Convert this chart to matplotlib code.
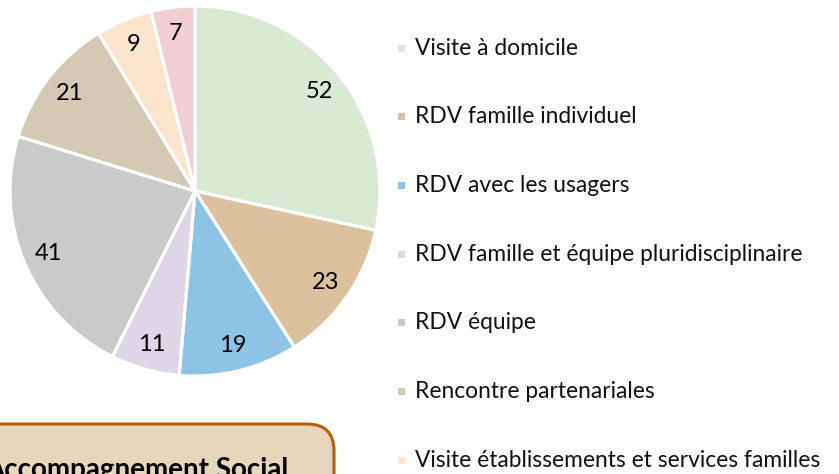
import matplotlib.pyplot as plt
from matplotlib.patches import FancyBboxPatch, Rectangle

plt.rcParams['font.family'] = ['Lato', 'DejaVu Sans']

# data
labels = ['Visite à domicile', 'RDV famille individuel', 'RDV avec les usagers',
          'RDV famille et équipe pluridisciplinaire', 'RDV équipe',
          'Rencontre partenariales', 'Visite établissements et services familles',
          'Autres']
values = [52, 23, 19, 11, 41, 21, 9, 7]
colors = ['#D9EAD3', '#DBC19D', '#8DC4E6', '#DFD6E8', '#CACACA',
          '#D4CAB4', '#FCE5CD', '#F2CED5']
box_text = 'Accompagnement Social'

W, H = 839, 474
fig = plt.figure(figsize=(W / 100, H / 100), dpi=100)

# overlay in pixel coordinates for legend and box
ov = fig.add_axes([0, 0, 1, 1])
ov.set_xlim(0, W)
ov.set_ylim(H, 0)
ov.axis('off')

# pie: centre (195, 191), radius 185 px
cx, cy, r = 195, 191, 185
ax = fig.add_axes([(cx - r) / W, (H - cy - r) / H, 2 * r / W, 2 * r / H])
ax.pie(values, colors=colors, startangle=90, counterclock=False,
       autopct=lambda p: '{:.0f}'.format(p * sum(values) / 100),
       pctdistance=0.86, radius=1,
       wedgeprops=dict(edgecolor='white', linewidth=2.3),
       textprops=dict(fontsize=17, color='black'))
ax.set_xlim(-1, 1)
ax.set_ylim(-1, 1)

# legend, drawn by hand
y0, dy = 48, 68.7
for i, (lab, col) in enumerate(zip(labels, colors)):
    y = y0 + i * dy
    ov.add_patch(Rectangle((398, y - 3.5), 7, 7, facecolor=col, edgecolor='none'))
    ov.text(415, y, lab, fontsize=16.4, va='center', ha='left', color='#111111')

# rounded box, partly outside the figure
ov.add_patch(FancyBboxPatch((-40, 424), 374, 120,
                            boxstyle='round,pad=0,rounding_size=27',
                            facecolor='#E6D6BC', edgecolor='#B65F0B', linewidth=2.2))
ov.text(288, 478, box_text, fontsize=20, fontweight='bold', ha='right',
        va='baseline', color='black')

fig.savefig('out.png', dpi=100)
